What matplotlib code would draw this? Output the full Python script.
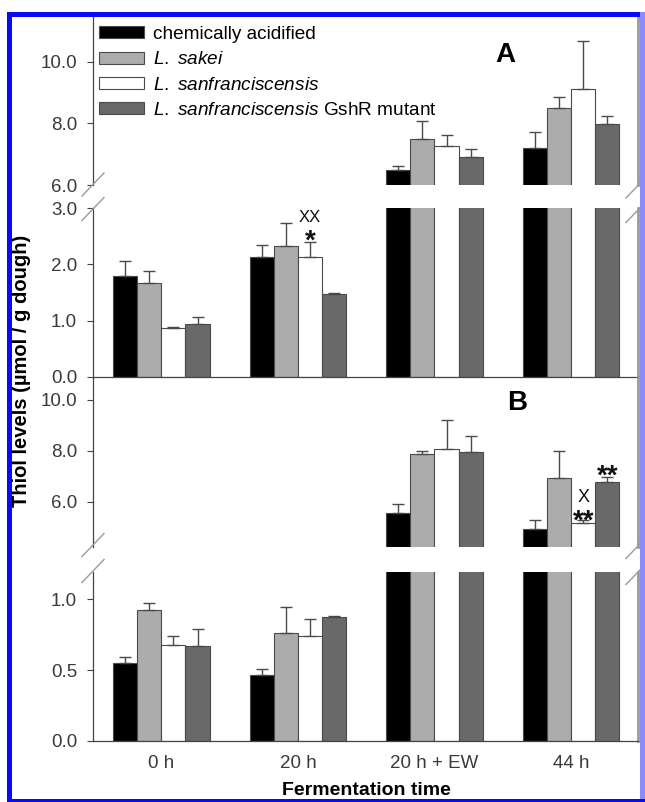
import matplotlib
matplotlib.use("Agg")
import matplotlib.pyplot as plt
import numpy as np
from matplotlib.patches import Rectangle
from matplotlib.lines import Line2D

plt.rcParams['font.family'] = ['Liberation Sans', 'DejaVu Sans']
plt.rcParams['mathtext.fontset'] = 'custom'
plt.rcParams['mathtext.rm'] = 'Liberation Sans'
plt.rcParams['mathtext.it'] = 'Liberation Sans:italic'
plt.rcParams['mathtext.bf'] = 'Liberation Sans:bold'

# ---------------- data ----------------
groups = ["0 h", "20 h", "20 h + EW", "44 h"]
series_labels = ["chemically acidified",
                 r"$\mathit{L.\ sakei}$",
                 r"$\mathit{L.\ sanfranciscensis}$",
                 r"$\mathit{L.\ sanfranciscensis}$ GshR mutant"]
colors = ["#000000", "#acacac", "#ffffff", "#696969"]

# Panel A (means and upper SD)
a_chem = [1.79, 2.14, 6.48, 7.19]
a_sakei = [1.67, 2.33, 7.50, 8.49]
a_sanf = [0.87, 2.14, 7.25, 9.10]
a_mut = [0.94, 1.48, 6.90, 7.97]
a_chem_err = [0.27, 0.20, 0.13, 0.53]
a_sakei_err = [0.22, 0.41, 0.56, 0.37]
a_sanf_err = [0.01, 0.26, 0.37, 1.56]
a_mut_err = [0.12, 0.01, 0.28, 0.26]

# Panel B
b_chem = [0.548, 0.463, 5.54, 4.94]
b_sakei = [0.925, 0.760, 7.87, 6.94]
b_sanf = [0.677, 0.743, 8.07, 5.17]
b_mut = [0.670, 0.878, 7.97, 6.76]
b_chem_err = [0.046, 0.042, 0.36, 0.35]
b_sakei_err = [0.052, 0.184, 0.14, 1.07]
b_sanf_err = [0.066, 0.116, 1.13, 0.11]
b_mut_err = [0.118, 0.004, 0.60, 0.20]

# significance marks: (group index, series index, text, y baseline, size, weight)
a_marks = [(1, 2, "XX", 2.76, 12, 'normal'), (1, 2, "*", 2.28, 20, 'bold')]
b_marks = [(3, 2, "X", 6.00, 13, 'normal'), (3, 2, "**", 4.95, 20, 'bold'),
           (3, 3, "**", 6.72, 20, 'bold')]

# ---------------- layout ----------------
W, H = 645, 802
fig = plt.figure(figsize=(W / 100, H / 100), dpi=100)

AX_L, AX_R = 93, 638
bw = 0.177
edge = "#4a4a4a"
ecol = "#4a4a4a"
tick_col = "#3a3a3a"
FS = 13.5


def px_axes(top, bottom):
    return fig.add_axes([AX_L / W, 1 - bottom / H, (AX_R - AX_L) / W, (bottom - top) / H])


def draw(ax, means, errs, ylim, ticks, bottom_spine, xlabels=False):
    x = np.arange(len(groups))
    conts = []
    for i, (m, e, c) in enumerate(zip(means, errs, colors)):
        pos = x + (i - 1.5) * bw
        b = ax.bar(pos, m, bw, color=c, edgecolor=edge, linewidth=0.8, zorder=2,
                   label=series_labels[i])
        conts.append(b)
        ax.errorbar(pos, m, yerr=[np.zeros(len(m)), e], fmt='none', ecolor=ecol,
                    elinewidth=1.0, capsize=4.2, capthick=1.0, zorder=3)
    ax.set_xlim(-0.5, 3.49)
    ax.set_ylim(*ylim)
    ax.set_yticks(ticks)
    ax.set_yticklabels([f"{t:.1f}" for t in ticks])
    ax.tick_params(axis='y', direction='out', length=4, width=0.8, color='#444444',
                   pad=7.5, labelsize=FS, labelcolor=tick_col)
    ax.spines['top'].set_visible(False)
    ax.spines['bottom'].set_visible(bottom_spine)
    ax.spines['bottom'].set_color('#444444')
    ax.spines['bottom'].set_linewidth(0.9)
    ax.spines['left'].set_color('#444444')
    ax.spines['left'].set_linewidth(0.9)
    ax.spines['right'].set_color('#9a9a9a')
    ax.spines['right'].set_linewidth(2.0)
    ax.set_facecolor('none')
    if xlabels:
        ax.set_xticks(x)
        ax.set_xticklabels(groups)
        ax.tick_params(axis='x', length=0, pad=10, labelsize=FS, labelcolor=tick_col)
    else:
        ax.set_xticks([])
    return conts


a_means = [a_chem, a_sakei, a_sanf, a_mut]
a_errs = [a_chem_err, a_sakei_err, a_sanf_err, a_mut_err]
b_means = [b_chem, b_sakei, b_sanf, b_mut]
b_errs = [b_chem_err, b_sakei_err, b_sanf_err, b_mut_err]

axA_up = px_axes(17, 185)
handles = draw(axA_up, a_means, a_errs, (6, 11.45), [6, 8, 10], False)
axA_lo = px_axes(208.3, 376.7)
draw(axA_lo, a_means, a_errs, (0, 3.0), [0, 1, 2, 3], True)
axB_up = px_axes(377, 546.7)
draw(axB_up, b_means, b_errs, (4.23, 10.9), [6, 8, 10], False)
axB_lo = px_axes(571.7, 740.7)
draw(axB_lo, b_means, b_errs, (0, 1.196), [0, 0.5, 1.0], True, xlabels=True)

# significance marks
for ax_m, marks in ((axA_lo, a_marks), (axB_up, b_marks)):
    for (gi, si, txt, yv, fs, fw) in marks:
        ax_m.text(gi + (si - 1.5) * bw, yv, txt, ha='center', va='baseline',
                  fontsize=fs, fontweight=fw, color='#111111', zorder=5)

# panel letters
fig.text(505 / W, 1 - 55 / H, "A", ha='center', va='center', fontsize=20, fontweight='bold')
fig.text(517 / W, 1 - 403 / H, "B", ha='center', va='center', fontsize=20, fontweight='bold')

# legend
fig.legend(handles, series_labels, loc='upper left', bbox_to_anchor=(99 / W, 1 - 26 / H),
           frameon=False, fontsize=13.7, handlelength=2.35, handleheight=0.58,
           labelspacing=0.44, handletextpad=0.5, borderpad=0, borderaxespad=0)

# axis break marks


def brk(xc, yc, dx=11, dy=11.5):
    fig.add_artist(Line2D([(xc - dx) / W, (xc + dx) / W],
                          [1 - (yc + dy) / H, 1 - (yc - dy) / H],
                          transform=fig.transFigure, color='#9a9a9a', lw=1.0))


for yc in (184.5, 209, 545, 571):
    brk(93, yc)
    brk(637, yc + 2)

# labels
fig.text(22 / W, 1 - 371 / H, "Thiol levels (µmol / g dough)", rotation=90,
         ha='center', va='center', fontsize=14.5, fontweight='bold')
fig.text(366 / W, 1 - 799 / H, "Fermentation time", ha='center', va='bottom',
         fontsize=14, fontweight='bold', zorder=30)

# blue frame


def band(x0, y0, x1, y1, c):
    fig.add_artist(Rectangle((x0 / W, 1 - y1 / H), (x1 - x0) / W, (y1 - y0) / H,
                             transform=fig.transFigure, color=c, lw=0, zorder=20))


band(7, 12, 645, 17, '#0a0af5')
band(7, 12, 12, 802, '#0a0af5')
band(640, 12, 645, 802, '#8c8cff')
band(7, 799, 645, 802, '#0a0af5')

fig.savefig("out.png", dpi=100)
